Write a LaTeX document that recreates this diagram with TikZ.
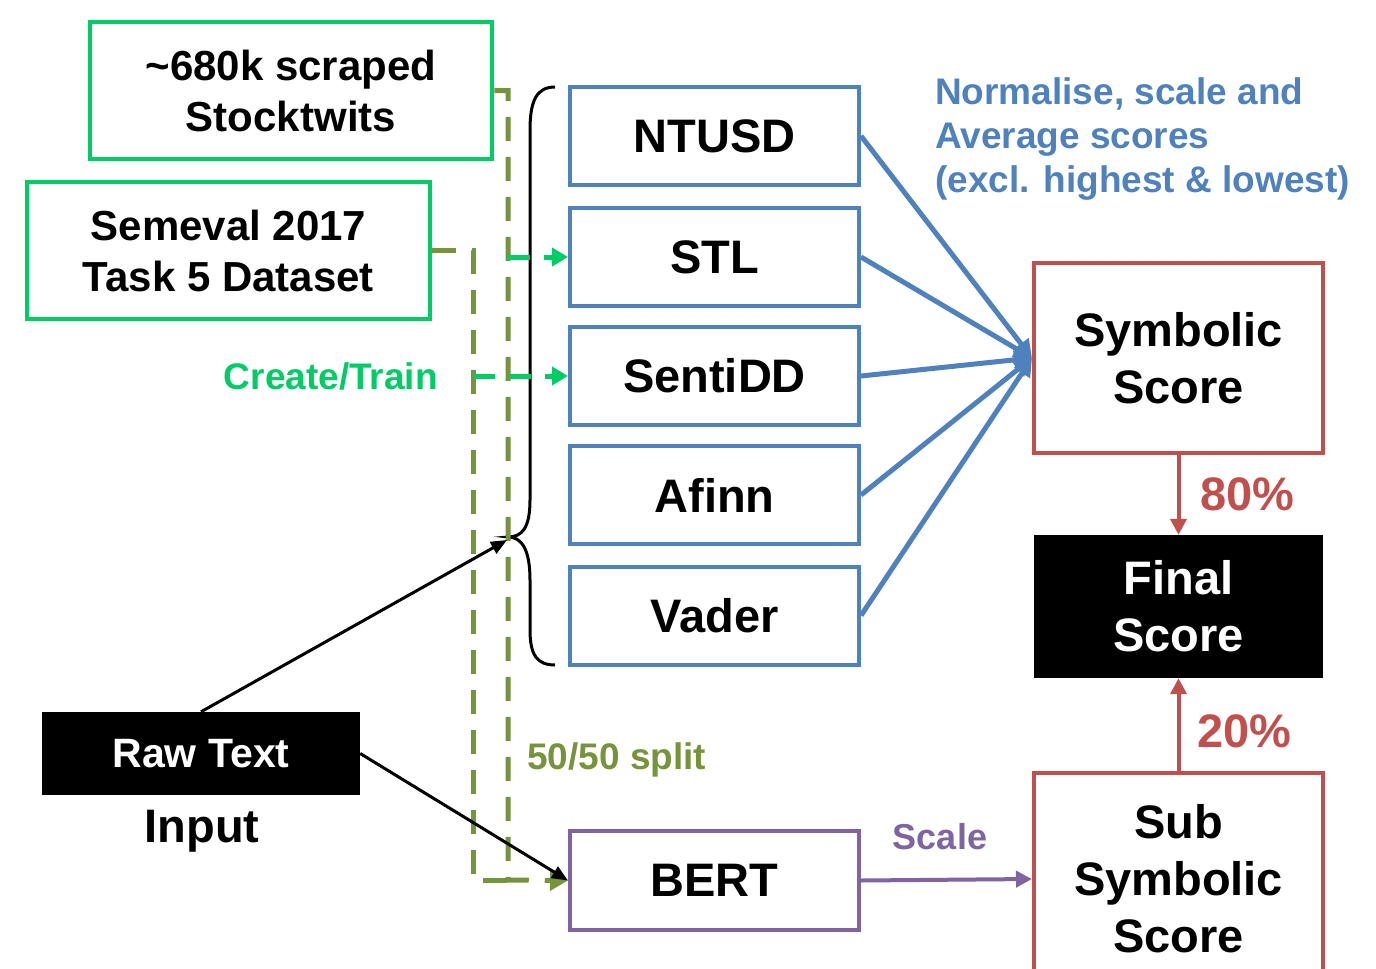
\documentclass[tikz,border=0pt]{standalone}
\usepackage{fontspec}
\setmainfont{Liberation Sans}
\usetikzlibrary{arrows.meta}
\definecolor{cgreen}{RGB}{0,204,102}
\definecolor{cblue}{RGB}{79,129,189}
\definecolor{cred}{RGB}{192,80,77}
\definecolor{cpurple}{RGB}{128,100,162}
\definecolor{colive}{RGB}{119,147,60}
\tikzset{
  big/.style={font=\fontsize{47}{57}\selectfont\bfseries},
  mid/.style={font=\fontsize{42}{51}\selectfont\bfseries},
  small/.style={font=\fontsize{37}{44}\selectfont\bfseries},
  databox/.style={draw=cgreen,line width=4.5pt,mid,align=center,inner sep=0pt,minimum width=402pt,minimum height=137pt},
  lexbox/.style={draw=cblue,line width=4pt,big,align=center,inner sep=0pt,minimum width=289pt,minimum height=98pt},
  scorebox/.style={draw=cred,line width=4pt,big,align=center,inner sep=0pt,minimum width=289pt},
  blackbox/.style={fill=black,text=white,inner sep=0pt,align=center},
  tip/.style={-{Triangle[length=18pt,width=18pt]}},
  bluearrow/.style={cblue,line width=5pt,tip},
  redarrow/.style={cred,line width=4pt,-{Triangle[length=16pt,width=16pt]}},
  olivedash/.style={colive,line width=5pt,dash pattern=on 24pt off 16pt},
  greendash/.style={cgreen,line width=5pt,dash pattern=on 22pt off 14pt,-{Triangle[length=16pt,width=18pt]}},
  blackarrow/.style={black,line width=3pt,-{Triangle[length=16pt,width=13pt]}},
}
\begin{document}
\begin{tikzpicture}[x=1pt,y=-1pt]
\useasboundingbox (0,0) rectangle (1376,969);
\clip (0,0) rectangle (1376,969);

% data boxes
\node[databox] (stock) at (291,90.5) {\textasciitilde680k scraped\\Stocktwits};
\node[databox,minimum width=403pt] (sem) at (228.5,250.5) {Semeval 2017\\Task 5 Dataset};

% lexicon boxes
\node[lexbox] (ntusd) at (714.5,136) {NTUSD};
\node[lexbox] (stl) at (714.5,257) {STL};
\node[lexbox] (senti) at (714.5,376) {SentiDD};
\node[lexbox] (afinn) at (714.5,495) {Afinn};
\node[lexbox] (vader) at (714.5,615.5) {Vader};
\node[lexbox,draw=cpurple,minimum height=99pt] (bert) at (714.5,880.5) {BERT};

% score boxes
\node[scorebox,minimum height=190pt] (sym) at (1178.5,358) {Symbolic\\Score};
\node[blackbox,big,minimum width=289pt,minimum height=143pt] (final) at (1178.5,606.5) {Final\\Score};
\node[scorebox,minimum height=212pt] (sub) at (1178.5,879) {Sub\\Symbolic\\Score};

% raw text
\node[blackbox,mid,font=\fontsize{41}{49}\selectfont\bfseries,minimum width=318pt,minimum height=83pt] (raw) at (201,753.5) {Raw Text};
\node[big] (input) at (202,831) {Input};

% labels
\node[small,text=cblue,align=left,anchor=north west,inner sep=0pt] (norm) at (935,77) {Normalise, scale and\\Average scores\\(excl. highest \& lowest)};
\node[small,text=cgreen,anchor=east,inner sep=0pt] (create) at (438,376) {Create/Train};
\node[small,text=colive,anchor=west,inner sep=0pt] (split) at (527,760) {50/50 split};
\node[small,font=\fontsize{36}{43}\selectfont\bfseries,text=cpurple,inner sep=0pt] (scale) at (940,837) {Scale};
\node[big,text=cred,anchor=west,inner sep=0pt] (p80) at (1200,494) {80\%};
\node[big,text=cred,anchor=west,inner sep=0pt] (p20) at (1197,731) {20\%};

% brace
\coordinate (bt) at (507,540);
\draw[black,line width=3pt] (555,87) .. controls (537,87) and (530,100) .. (530,130) -- (530,500)
  .. controls (530,528) and (522,537) .. (508,537)
  .. controls (522,537) and (530,550) .. (530,580) -- (530,630)
  .. controls (530,655) and (537,665) .. (555,665);

% dashed data flow
\coordinate (c1) at (508,880);
\coordinate (c2) at (473,880);
\coordinate (g1) at (508,257);
\coordinate (g2) at (473,376);
\draw[olivedash] (sem.east) -| (c2) -- (c1);
\draw[olivedash,-{Triangle[length=18pt,width=20pt]}] (stock.east) -| (c1) -- (bert.west);
\draw[greendash] (g1) -- (stl.west);
\draw[greendash] (g2) -- (senti.west);

% lexicons to symbolic
\foreach \n in {ntusd,stl,senti,afinn,vader}
  \draw[bluearrow] (\n.east) -- (sym.west);

% score arrows
\draw[redarrow] (sym.south) -- (final.north);
\draw[redarrow] (sub.north) -- (final.south);
\draw[cpurple,line width=4pt,-{Triangle[length=16pt,width=16pt]}] (bert.east) -- (sub.west);

% raw text arrows
\draw[blackarrow] (raw.north) -- (bt);
\draw[blackarrow] (raw.east) -- (bert.west);
\end{tikzpicture}
\end{document}
